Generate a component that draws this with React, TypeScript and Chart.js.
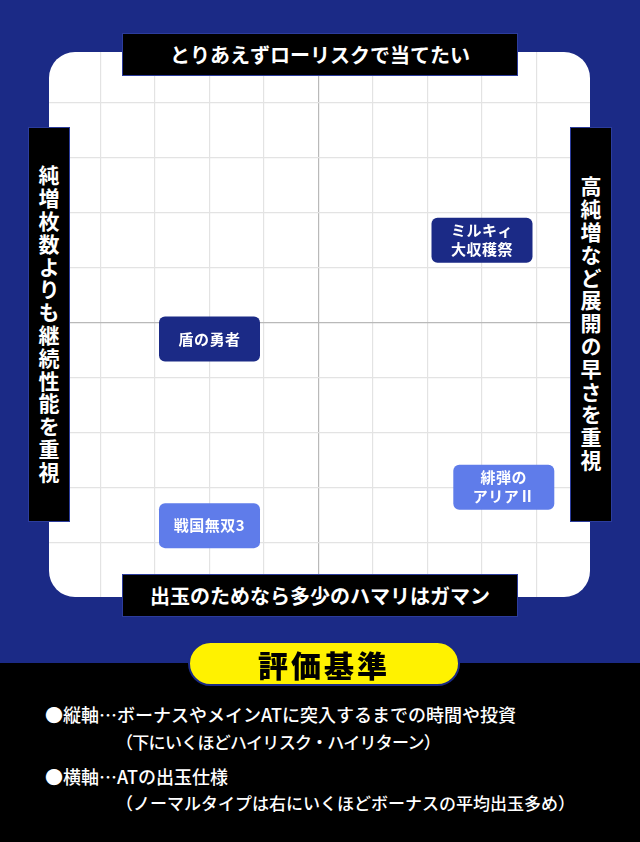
import React, { useEffect, useRef } from "react";
import { Chart, registerables } from "chart.js";

Chart.register(...registerables);

// ---- data ----
const gameLabels = ["盾の勇者", "ミルキィ\n大収穫祭", "緋弾の\nアリアⅡ", "戦国無双3"];
const xValues = [-2, 3, 3.4, -2];
const yValues = [-0.3, 1.5, -3, -3.7];
const gameTiers = ["dark", "dark", "light", "light"];
const axisMin = -5;
const axisMax = 5;

const topCaption = "とりあえずローリスクで当てたい";
const bottomCaption = "出玉のためなら多少のハマリはガマン";
const leftCaption = "純増枚数よりも継続性能を重視";
const rightCaption = "高純増など展開の早さを重視";
const legendTitle = "評価基準";
const legendLines = [
  "●縦軸…ボーナスやメインATに突入するまでの時間や投資",
  "（下にいくほどハイリスク・ハイリターン）",
  "●横軸…ATの出玉仕様",
  "（ノーマルタイプは右にいくほどボーナスの平均出玉多め）",
];

const NAVY = "#1b2a86";
const LIGHT = "#5f7cea";
const FONT = '"Noto Sans CJK JP", "Noto Sans", sans-serif';

const boardPath = (ctx: any, a: any) => {
  ctx.beginPath();
  ctx.roundRect(a.left + 3, a.top + 4, a.right - a.left - 4, a.bottom - a.top - 4, 26);
};

const bgPlugin = {
  id: "whiteBoard",
  beforeDraw(chart: any) {
    const { ctx, chartArea } = chart;
    ctx.save();
    ctx.fillStyle = "#ffffff";
    boardPath(ctx, chartArea);
    ctx.fill();
    ctx.clip();
  },
  afterDraw(chart: any) {
    chart.ctx.restore();
  },
};

const labelPlugin = {
  id: "gameBoxes",
  afterDatasetsDraw(chart: any) {
    const { ctx } = chart;
    const meta = chart.getDatasetMeta(0);
    ctx.save();
    meta.data.forEach((pt: any, i: number) => {
      const w = 101;
      const h = 45;
      const x = pt.x - w / 2;
      const y = pt.y - h / 2;
      ctx.fillStyle = gameTiers[i] === "dark" ? NAVY : LIGHT;
      ctx.beginPath();
      ctx.roundRect(x, y, w, h, 6);
      ctx.fill();
      ctx.fillStyle = "#ffffff";
      ctx.font = `bold 15px ${FONT}`;
      (ctx as any).letterSpacing = "0.5px";
      ctx.textAlign = "center";
      ctx.textBaseline = "middle";
      const lines = gameLabels[i].split("\n");
      const lh = 19;
      lines.forEach((ln, j) => {
        ctx.fillText(ln, pt.x, pt.y + (j - (lines.length - 1) / 2) * lh);
      });
    });
    ctx.restore();
  },
};

function QuadrantChart() {
  const ref = useRef<HTMLCanvasElement | null>(null);
  useEffect(() => {
    if (!ref.current) return;
    const gridColor = (c: any) => {
      const v = c.tick ? c.tick.value : 0;
      if (v === 0) return "#b9b9b9";
      if (v === axisMin || v === axisMax) return "rgba(0,0,0,0)";
      return "#e3e3e3";
    };
    const chart = new Chart(ref.current, {
      type: "scatter",
      data: {
        datasets: [
          {
            data: xValues.map((x, i) => ({ x, y: yValues[i] })),
            pointRadius: 0,
            pointHoverRadius: 0,
          },
        ],
      },
      options: {
        responsive: false,
        animation: false,
        events: [],
        layout: { padding: { left: 46, right: 49, top: 48, bottom: 66 } },
        plugins: { legend: { display: false }, tooltip: { enabled: false } },
        scales: {
          x: {
            type: "linear",
            min: axisMin,
            max: axisMax,
            ticks: { display: false, stepSize: 1 },
            grid: { color: gridColor, drawTicks: false, lineWidth: 1.2 },
            border: { display: false },
          },
          y: {
            type: "linear",
            min: axisMin,
            max: axisMax,
            ticks: { display: false, stepSize: 1 },
            grid: { color: gridColor, drawTicks: false, lineWidth: 1.2 },
            border: { display: false },
          },
        },
      },
      plugins: [bgPlugin, labelPlugin],
    });
    return () => chart.destroy();
  }, []);
  return <canvas ref={ref} width={640} height={663} style={{ position: "absolute", left: 0, top: 0, width: 640, height: 663 }} />;
}

const captionBase: React.CSSProperties = {
  position: "absolute",
  background: "#000",
  border: "1px solid #2c3c9c",
  color: "#fff",
  fontFamily: FONT,
  fontWeight: 700,
  display: "flex",
  alignItems: "center",
  justifyContent: "center",
  boxSizing: "border-box",
};

const legendStyles: React.CSSProperties[] = [
  { left: 45, top: 703, fontSize: 18 },
  { left: 116, top: 731, fontSize: 17, letterSpacing: -0.7 },
  { left: 45, top: 765, fontSize: 18 },
  { left: 116, top: 792, fontSize: 17 },
];

export default function App() {
  return (
    <div style={{ position: "fixed", left: 0, top: 0, width: 640, height: 842, background: NAVY, overflow: "hidden" }}>
      <QuadrantChart />
      <div style={{ ...captionBase, left: 122, top: 33, width: 396, height: 43, fontSize: 20 }}>{topCaption}</div>
      <div style={{ ...captionBase, left: 122, top: 574, width: 396, height: 43, fontSize: 20 }}>{bottomCaption}</div>
      <div style={{ ...captionBase, left: 28, top: 127, width: 42, height: 395, fontSize: 21, writingMode: "vertical-rl", letterSpacing: 1.8 }}>{leftCaption}</div>
      <div style={{ ...captionBase, left: 570, top: 127, width: 42, height: 395, fontSize: 21, writingMode: "vertical-rl", letterSpacing: 1.8 }}>{rightCaption}</div>
      <div style={{ position: "absolute", left: 0, top: 663, width: 640, height: 179, background: "#000" }} />
      <div
        style={{
          position: "absolute",
          left: 188,
          top: 641,
          width: 272,
          height: 45,
          boxSizing: "border-box",
          background: "#fff200",
          border: `2px solid ${NAVY}`,
          borderRadius: 23,
          display: "flex",
          alignItems: "center",
          justifyContent: "center",
          fontFamily: FONT,
          fontWeight: 900,
          fontSize: 30,
          color: "#000",
          letterSpacing: 3,
        }}
      >
        {legendTitle}
      </div>
      {legendLines.map((t, i) => (
        <div
          key={i}
          style={{
            position: "absolute",
            fontFamily: FONT,
            fontWeight: 500,
            lineHeight: "22px",
            color: "#fff",
            whiteSpace: "nowrap",
            ...legendStyles[i],
          }}
        >
          {t}
        </div>
      ))}
    </div>
  );
}
